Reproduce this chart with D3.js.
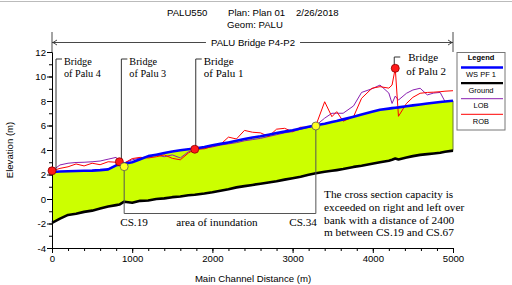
<!DOCTYPE html>
<html>
<head>
<meta charset="utf-8">
<script src="https://cdn.jsdelivr.net/npm/d3@7"></script>
<style>
  body { margin: 0; background: #fff; }
  svg { display: block; font-family: "Liberation Sans", Arial, sans-serif; }
  .serif { font-family: "Liberation Serif", "Times New Roman", serif; }
</style>
</head>
<body>
<svg id="chart" width="512" height="285"></svg>
<script>
// cross section stations along the main channel (m)
const stations = [0, 100, 200, 300, 400, 500, 600, 700, 800, 840, 900,
  1000, 1100, 1200, 1300, 1400, 1500, 1600, 1700, 1780,
  1900, 2000, 2100, 2200, 2300, 2400, 2500, 2600, 2700, 2800, 2900, 3000, 3100, 3200, 3290,
  3400, 3490, 3550, 3630, 3760, 3860, 3990, 4090,
  4200, 4240, 4280, 4320,
  4420, 4500, 4590, 4680, 4760, 4840, 4900, 5000];

const wsPF1 = [2.20, 2.24, 2.26, 2.28, 2.30, 2.32, 2.36, 2.42, 2.75, 2.80, 2.88,
  3.00, 3.25, 3.50, 3.62, 3.75, 3.88, 3.98, 4.06, 4.12,
  4.25, 4.38, 4.50, 4.62, 4.75, 4.90, 5.02, 5.12, 5.25, 5.38, 5.50, 5.62, 5.76, 5.90, 6.02,
  6.15, 6.28, 6.36, 6.50, 6.72, 6.90, 7.12, 7.28,
  7.38, 7.42, 7.45, 7.48,
  7.57, 7.64, 7.72, 7.80, 7.86, 7.92, 7.96, 8.02];

const ground = [-1.95, -1.6, -1.3, -1.2, -1.05, -0.95, -0.78, -0.62, -0.5, -0.45, -0.22,
  -0.3, -0.15, -0.12, 0.0, 0.05, 0.15, 0.2, 0.3, 0.35,
  0.45, 0.55, 0.68, 0.8, 0.95, 1.05, 1.15, 1.25, 1.35, 1.45, 1.58, 1.7, 1.82, 1.98, 2.1,
  2.22, 2.3, 2.36, 2.45, 2.62, 2.72, 2.88, 3.0,
  3.12, 3.2, 3.3, 3.22,
  3.38, 3.5, 3.6, 3.66, 3.72, 3.78, 3.86, 3.95];

const lob = [2.3, 2.78, 2.92, 2.98, 3.0, 3.04, 3.1, 3.25, 3.4, 3.1, 2.95,
  3.2, 3.35, 3.45, 3.6, 3.45, 3.6, 3.35, 3.85, 4.02,
  4.15, 4.25, 4.4, 4.5, 4.6, 4.75, 4.85, 4.95, 5.1, 5.25, 5.4, 5.5, 5.7, 5.85, 6.0,
  6.6, 7.0, 7.0, 7.0, 7.6, 8.7, 9.0, 9.3,
  8.65, 7.8, 8.4, 8.08,
  8.63, 8.9, 9.04, 8.5, 8.65, 8.7, 7.96, 8.02];

const rob = [2.3, 2.5, 2.63, 2.86, 2.7, 2.92, 2.8, 3.04, 3.0, 3.04, 2.92,
  3.3, 3.4, 3.35, 3.45, 3.6, 3.32, 3.2, 3.75, 4.06,
  4.1, 4.3, 4.45, 5.05, 4.9, 5.6, 5.45, 5.4, 5.1, 5.7, 5.77, 5.5, 5.86, 5.85, 6.0,
  7.94, 6.72, 7.13, 6.35, 6.72, 8.22, 9.04, 9.17,
  9.05, 9.3, 10.67, 6.75,
  7.8, 8.3, 8.63, 8.7, 8.72, 8.76, 8.8, 8.84];

const bridgeNames = ["of Palu 4", "of Palu 3", "of Palu 1", "of Palu 2"];
const bridgeStations = [0, 840, 1780, 4280];
const bridgeElev = [2.3, 3.04, 4.06, 10.67];

const csNames = ["CS.19", "CS.34"];
const csStations = [900, 3290];
const csElev = [2.64, 5.96];

const xTicks = [0, 1000, 2000, 3000, 4000, 5000];
const yTicks = [-4, -2, 0, 2, 4, 6, 8, 10, 12];

const legendLabels = ["WS  PF 1", "Ground", "LOB", "ROB"];
const seriesColors = ["#0000ff", "#000000", "#8a1fb0", "#ff0000"];

const noteLines = ["The cross section capacity is",
  "exceeded on right and left over",
  "bank with a distance of  2400",
  "m between CS.19 and CS.67"];

const svg = d3.select('#chart');

const x = d3.scaleLinear().domain([0, 5000]).range([52, 453]);
const y = d3.scaleLinear().domain([-4, 12]).range([248, 52]);

const rows = stations.map((s, i) => ({
  s: s, ws: wsPF1[i], g: ground[i], lob: lob[i], rob: rob[i]
}));

// top frame line
svg.append('line')
  .attr('x1', 0).attr('x2', 512).attr('y1', 1.5).attr('y2', 1.5)
  .attr('stroke', '#bbb');

// titles
svg.append('text').attr('x', 167).attr('y', 15.5)
  .attr('font-size', 9.6).text('PALU550');
svg.append('text').attr('x', 228).attr('y', 15.5)
  .attr('font-size', 9.6).text('Plan: Plan 01');
svg.append('text').attr('x', 296).attr('y', 15.5)
  .attr('font-size', 9.6).text('2/26/2018');
svg.append('text').attr('x', 227).attr('y', 27.5)
  .attr('font-size', 9.6).text('Geom: PALU');

// fill between ground and water surface
svg.append('path')
  .datum(rows)
  .attr('fill', '#ccff00')
  .attr('d', d3.area().x(d => x(d.s)).y0(d => y(d.g)).y1(d => y(d.ws)));

svg.append('line')
  .attr('x1', x(5000)).attr('x2', x(5000))
  .attr('y1', y(wsPF1[wsPF1.length - 1])).attr('y2', y(ground[ground.length - 1]))
  .attr('stroke', '#6a7a30').attr('stroke-width', 1);

// axes
svg.append('g').attr('transform', 'translate(0,248)')
  .call(d3.axisBottom(x).tickValues(xTicks).tickSize(5).tickPadding(2).tickFormat(d => String(d)));
svg.append('g').attr('transform', 'translate(0,248)')
  .call(d3.axisBottom(x).tickValues(d3.range(0, 5001, 200)).tickSize(3).tickFormat(''))
  .select('.domain').remove();

svg.append('g').attr('transform', 'translate(52,0)')
  .call(d3.axisLeft(y).tickValues(yTicks).tickSize(5).tickPadding(1).tickFormat(d => String(d)));
svg.append('g').attr('transform', 'translate(52,0)')
  .call(d3.axisLeft(y).tickValues(d3.range(-4, 12.1, 1)).tickSize(3).tickFormat(''))
  .select('.domain').remove();

svg.selectAll('.tick text').attr('font-size', 9.6).attr('fill', '#000')
  .attr('font-family', '"Liberation Sans", Arial, sans-serif');
svg.selectAll('.domain, .tick line').attr('stroke', '#000');

svg.append('text')
  .attr('transform', 'translate(13,150) rotate(-90)')
  .attr('text-anchor', 'middle').attr('font-size', 9.6)
  .text('Elevation (m)');
svg.append('text')
  .attr('x', 253).attr('y', 281.5)
  .attr('text-anchor', 'middle').attr('font-size', 9.6)
  .text('Main Channel Distance (m)');

// series lines
const line = key => d3.line().x(d => x(d.s)).y(d => y(d[key]));

svg.append('path').datum(rows).attr('fill', 'none')
  .attr('stroke', seriesColors[1]).attr('stroke-width', 2.6)
  .attr('stroke-linejoin', 'round').attr('d', line('g'));
svg.append('path').datum(rows).attr('fill', 'none')
  .attr('stroke', seriesColors[2]).attr('stroke-width', 1)
  .attr('d', line('lob'));
svg.append('path').datum(rows).attr('fill', 'none')
  .attr('stroke', seriesColors[3]).attr('stroke-width', 1)
  .attr('d', line('rob'));
svg.append('path').datum(rows).attr('fill', 'none')
  .attr('stroke', seriesColors[0]).attr('stroke-width', 2.6)
  .attr('stroke-linejoin', 'round').attr('d', line('ws'));

// bridge call-outs
const calloutDx = [4, 2, 1, -1];
const calloutTop = [59, 59, 59, 57];
const calloutSize = [10.2, 10.2, 11, 11];

bridgeStations.forEach((s, i) => {
  const lx = x(s) + calloutDx[i];
  const g = svg.append('g');
  g.append('path')
    .attr('d', `M${lx},${y(bridgeElev[i])}V${calloutTop[i]}h6`)
    .attr('fill', 'none').attr('stroke', '#333').attr('stroke-width', 1);
  const tx = i === 3 ? lx + 14 : lx + 8;
  const t = g.append('text').attr('class', 'serif')
    .attr('font-size', calloutSize[i]);
  t.append('tspan').attr('x', tx).attr('y', calloutTop[i] + (i === 3 ? 4 : 5.5)).text('Bridge');
  t.append('tspan').attr('x', tx - (i === 3 ? 2 : 0)).attr('y', calloutTop[i] + (i === 3 ? 18 : 17.5)).text(bridgeNames[i]);
});

svg.selectAll('.bridge')
  .data(bridgeStations)
  .join('circle')
  .attr('cx', d => x(d))
  .attr('cy', (d, i) => y(bridgeElev[i]))
  .attr('r', 4)
  .attr('fill', '#ff1a1a').attr('stroke', '#8b0000').attr('stroke-width', 0.8);

// area of inundation bracket
const bracketY = 213.5;
svg.append('path')
  .attr('d', `M${x(csStations[0])},${y(csElev[0])}V${bracketY}H${x(csStations[1])}V${y(csElev[1])}`)
  .attr('fill', 'none').attr('stroke', '#555').attr('stroke-width', 1);

svg.selectAll('.cs')
  .data(csStations)
  .join('circle')
  .attr('cx', d => x(d))
  .attr('cy', (d, i) => y(csElev[i]))
  .attr('r', 4)
  .attr('fill', '#ffff22').attr('stroke', '#555').attr('stroke-width', 0.8);

svg.append('text').attr('class', 'serif').attr('font-size', 11.2)
  .attr('x', x(csStations[0]) - 4).attr('y', 226).text(csNames[0]);
svg.append('text').attr('class', 'serif').attr('font-size', 11.2)
  .attr('x', x(csStations[1]) + 1).attr('y', 226).attr('text-anchor', 'end').text(csNames[1]);
svg.append('text').attr('class', 'serif').attr('font-size', 11.2)
  .attr('x', 217).attr('y', 226).attr('text-anchor', 'middle').text('area of inundation');

const note = svg.append('text').attr('class', 'serif').attr('font-size', 11.3);
noteLines.forEach((l, i) => {
  note.append('tspan').attr('x', 324).attr('y', 198 + i * 12.8).text(l);
});

// reach bracket on top
const ry = 42.5;
const rl = svg.append('text')
  .attr('x', 253).attr('y', ry + 3.5).attr('text-anchor', 'middle')
  .attr('font-size', 9.6).text('PALU Bridge P4-P2');
const bb = rl.node().getBBox();
svg.append('path')
  .attr('d', `M${x(0)},${ry}H${bb.x - 5}M${bb.x + bb.width + 5},${ry}H${x(5000)}` +
    `M${x(0)},32V52M${x(5000)},32V52` +
    `M${x(0) + 5},${ry - 2.5}L${x(0) + 1},${ry}L${x(0) + 5},${ry + 2.5}` +
    `M${x(5000) - 5},${ry - 2.5}L${x(5000) - 1},${ry}L${x(5000) - 5},${ry + 2.5}`)
  .attr('fill', 'none').attr('stroke', '#333').attr('stroke-width', 0.9);

// legend
const lg = svg.append('g').attr('transform', 'translate(457,52.5)');
lg.append('rect').attr('width', 48).attr('height', 77.5)
  .attr('fill', '#fff').attr('stroke', '#777').attr('stroke-width', 1);
lg.append('text').attr('x', 24).attr('y', 7.5).attr('text-anchor', 'middle')
  .attr('font-size', 7.5).attr('font-weight', 'bold').text('Legend');
legendLabels.forEach((l, i) => {
  const yy = 15 + i * 15.6;
  lg.append('line').attr('x1', 4).attr('x2', 46).attr('y1', yy).attr('y2', yy)
    .attr('stroke', seriesColors[i]).attr('stroke-width', i < 2 ? 2.4 : 1);
  lg.append('text').attr('x', 24).attr('y', yy + 9.5).attr('text-anchor', 'middle')
    .attr('font-size', 7.5).text(l);
});
</script>
</body>
</html>
